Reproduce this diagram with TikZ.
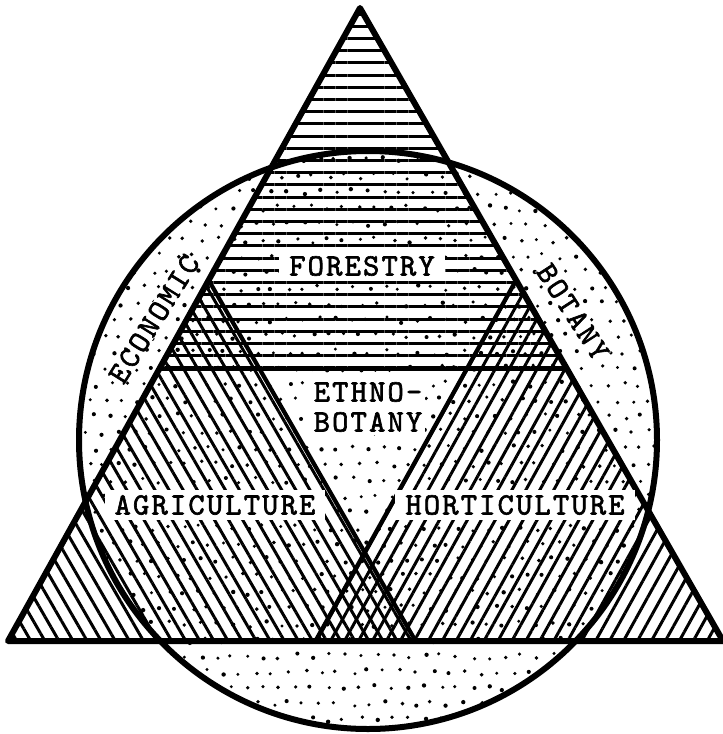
\documentclass[tikz,border=0pt]{standalone}
\usepackage{fontspec}
\newfontfamily\labelfont[LetterSpace=7,FakeBold=2]{lmmono10-regular.otf}
\usetikzlibrary{calc,patterns.meta}

\tikzset{
  labelbox/.style={fill=white,inner xsep=10pt,inner ysep=0pt,minimum height=30pt,
    font=\labelfont\fontsize{31}{30}\selectfont},
  ringlabel/.style={labelbox,inner sep=0pt,minimum height=0pt},
  outline/.style={line width=6pt,line join=round},
  inneredge/.style={line width=4.2pt},
  hatchfill/.style={pattern={Lines[angle=#1,distance=12.2pt,line width=3pt]}}
}

\begin{document}
\begin{tikzpicture}[x=1pt,y=-1pt]
    \useasboundingbox (0,0) rectangle (723,734);

    % Corners of the big triangle and centre of the circle
    \coordinate (A) at (360,8);
    \coordinate (B) at (8,641);
    \coordinate (C) at (723,641);
    \coordinate (O) at (368,440);

    % Corners of the three smaller triangles
    \def\k{0.57}
    \coordinate (F1) at ($(A)!\k!(B)$);
    \coordinate (F2) at ($(A)!\k!(C)$);
    \coordinate (Pa) at ($(B)!\k!(A)$);
    \coordinate (G) at ($(B)!\k!(C)$);
    \coordinate (Ph) at ($(C)!\k!(A)$);
    \coordinate (H) at ($(C)!\k!(B)$);

    % Hatching
    \fill[hatchfill=0] (A) -- (F1) -- (F2) -- cycle;
    \fill[hatchfill=-60] (B) -- (G) -- (Pa) -- cycle;
    \fill[hatchfill=61] (C) -- (H) -- (Ph) -- cycle;

    % Stipple inside the circle
    \pgfmathsetseed{17}
    \begin{scope}
        \clip (O) circle (289);
        \foreach \i in {0,...,38} {
            \foreach \j in {0,...,38} {
                \fill ({72+\i*16+8*mod(\j,2)+3*rand},{144+\j*16+3*rand}) circle ({1.9+0.3*rand});
            }
        }
    \end{scope}

    % Outlines
    \draw[outline] (O) circle (289);
    \draw[outline] (A) -- (B) -- (C) -- cycle;
    \draw[inneredge] (F1) -- (F2);
    \draw[inneredge] (Pa) -- (G);
    \draw[inneredge] (Ph) -- (H);

    % Labels
    \node[labelbox] (forestry) at (362,266) {FORESTRY};
    \node[labelbox,align=center,inner sep=3pt] (ethno) at (368,407) {ETHNO-\\BOTANY};
    \node[labelbox] (agriculture) at (215,505) {AGRICULTURE};
    \node[labelbox] (horticulture) at (515,505) {HORTICULTURE};
    \node[ringlabel,rotate=58] (economic) at (154,319) {ECONOMIC};
    \node[ringlabel,rotate=-57] (botany) at (573,312) {BOTANY};

\end{tikzpicture}
\end{document}
